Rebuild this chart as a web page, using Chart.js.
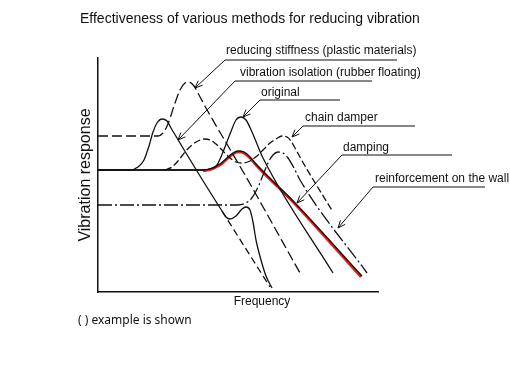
<!DOCTYPE html>
<html>
<head>
<meta charset="utf-8">
<script src="https://cdn.jsdelivr.net/npm/chart.js@4.4.1/dist/chart.umd.min.js"></script>
<style>
  body { margin: 0; background: #fff; }
  canvas { display: block; }
</style>
</head>
<body>
<canvas id="vibrationChart" width="510" height="367"></canvas>
<script>
// Curves (frequency -> vibration response, arbitrary units)
const originalX = [0, 102, 112, 119, 125, 132, 138, 143, 148, 154, 165, 235];
const originalY = [122, 122, 123, 127, 140, 158, 172, 175, 172, 160, 134, 19];

const dampingX = [0, 105, 114, 122, 129, 135, 140, 146, 152, 158, 197, 264];
const dampingY = [122, 122, 124, 128, 134, 139, 141, 140, 135, 128, 89, 16];
// red trace sits just under the black damping line
const dampingRedX = [105, 114, 122, 129, 135, 140, 146, 152, 158, 197, 263];
const dampingRedY = [121, 123, 127, 133, 138, 140, 139, 134, 127, 88, 15];

const rubberX = [0, 32, 40, 46, 51, 55, 59, 64, 69, 73, 124, 128, 132, 138, 144, 148, 152, 155, 158, 163, 168, 174];
const rubberY = [122, 122, 125, 132, 146, 160, 169, 173, 171, 164, 81, 75, 73, 76, 83, 85, 82, 70, 52, 32, 16, 4];
const rubberTailX = [124, 172];
const rubberTailY = [81, 5];

const stiffnessX = [0, 60, 65, 70, 76, 82, 87, 91, 96, 101, 108, 147, 202];
const stiffnessY = [156, 156, 159, 168, 186, 202, 209, 210, 206, 197, 184, 117, 19];

const chainX = [67, 74, 80, 87, 94, 100, 106, 112, 118, 124, 131, 138, 145, 152, 159, 166, 172, 178, 184, 189, 193, 197, 207, 235];
const chainY = [122, 125, 131, 140, 147, 151, 153, 152, 148, 142, 135, 130, 129, 131, 136, 143, 149, 153, 156, 155, 151, 144, 126, 80];

const wallX = [0, 140, 148, 153, 157, 161, 165, 170, 175, 180, 185, 190, 196, 202, 269];
const wallY = [87, 87, 89, 93, 99, 107, 117, 129, 137, 140, 139, 134, 124, 112, 19];

// Callout labels
const calloutNames = [
  "reducing stiffness (plastic materials)",
  "vibration isolation (rubber floating)",
  "original",
  "chain damper",
  "damping",
  "reinforcement on the wall",
];

const points = (xs, ys) => xs.map((x, i) => ({ x: x, y: ys[i] }));

// text anchor, underline and arrow tip for each callout, in chart units
const callouts = [
  { tx: 128, ty: 241, ly: 232, l0: 127, l1: 299, ax: 97, ay: 204 },
  { tx: 142, ty: 219, ly: 211, l0: 137, l1: 274, ax: 80, ay: 152 },
  { tx: 163, ty: 199, ly: 192, l0: 162, l1: 242, ax: 145, ay: 175 },
  { tx: 207, ty: 174, ly: 166, l0: 205, l1: 317, ax: 194, ay: 155 },
  { tx: 245, ty: 144, ly: 137, l0: 244, l1: 354, ax: 199, ay: 89 },
  { tx: 277, ty: 113, ly: 105, l0: 275, l1: 387, ax: 240, ay: 64 },
];

const sketchText = {
  id: "sketchText",
  afterDraw(chart) {
    const { ctx } = chart;
    const sx = chart.scales.x;
    const sy = chart.scales.y;
    ctx.save();
    ctx.fillStyle = "#111";
    ctx.strokeStyle = "#111";
    ctx.lineWidth = 1;
    ctx.textBaseline = "middle";

    ctx.font = "12px 'Liberation Sans', Arial, sans-serif";
    callouts.forEach((c, i) => {
      ctx.fillText(calloutNames[i], sx.getPixelForValue(c.tx), sy.getPixelForValue(c.ty));
      const lx = sx.getPixelForValue(c.l0);
      const ly = sy.getPixelForValue(c.ly);
      const px = sx.getPixelForValue(c.ax);
      const py = sy.getPixelForValue(c.ay);
      const ang = Math.atan2(py - ly, px - lx);
      ctx.beginPath();
      ctx.moveTo(sx.getPixelForValue(c.l1), ly);
      ctx.lineTo(lx, ly);
      ctx.lineTo(px, py);
      ctx.moveTo(px - 8 * Math.cos(ang - 0.4), py - 8 * Math.sin(ang - 0.4));
      ctx.lineTo(px, py);
      ctx.lineTo(px - 8 * Math.cos(ang + 0.4), py - 8 * Math.sin(ang + 0.4));
      ctx.stroke();
    });

    ctx.font = "14px 'Liberation Sans', Arial, sans-serif";
    ctx.fillText("Effectiveness of various methods for reducing vibration", 80, 19);

    ctx.font = "12px 'Liberation Sans', Arial, sans-serif";
    ctx.textAlign = "center";
    ctx.fillText("Frequency", 262, 302);

    ctx.textAlign = "left";
    ctx.font = "12px 'Noto Sans', sans-serif";
    ctx.fillText("( ) example is shown", 78, 321);

    ctx.translate(86, 175);
    ctx.rotate(-Math.PI / 2);
    ctx.textAlign = "center";
    ctx.font = "16px 'Liberation Sans', Arial, sans-serif";
    ctx.fillText("Vibration response", 0, 0);
    ctx.restore();
  },
};

const line = (xs, ys, extra) =>
  Object.assign(
    {
      data: points(xs, ys),
      borderColor: "#111",
      borderWidth: 1.3,
      pointRadius: 0,
      fill: false,
      cubicInterpolationMode: "monotone",
    },
    extra
  );

const ctx = document.getElementById("vibrationChart").getContext("2d");
const vibrationChart = new Chart(ctx, {
  type: "scatter",
  data: {
    datasets: [
      line(originalX, originalY, { label: "original" }),
      line(dampingX, dampingY, { label: "damping", borderWidth: 1.3 }),
      line(dampingRedX, dampingRedY, {
        label: "damping (highlight)",
        borderColor: "#f01a10",
        borderWidth: 2.6,
        order: 10,
      }),
      line(rubberX, rubberY, { label: "vibration isolation" }),
      line(rubberTailX, rubberTailY, { label: "vibration isolation tail", borderDash: [7, 4] }),
      line(stiffnessX, stiffnessY, { label: "reducing stiffness", borderDash: [10, 4] }),
      line(chainX, chainY, { label: "chain damper", borderDash: [7, 3] }),
      line(wallX, wallY, { label: "reinforcement on the wall", borderDash: [14, 3, 2, 3] }),
    ],
  },
  options: {
    responsive: false,
    animation: false,
    showLine: true,
    layout: {
      padding: { left: 98, top: 58, right: 132, bottom: 75 },
    },
    scales: {
      x: {
        type: "linear",
        min: 0,
        max: 280,
        ticks: { display: false },
        grid: { display: false },
        border: { display: true, color: "#111", width: 1.5 },
        afterFit: (scale) => {
          scale.height = 0;
        },
      },
      y: {
        type: "linear",
        min: 0,
        max: 234,
        ticks: { display: false },
        grid: { display: false },
        border: { display: true, color: "#111", width: 1.5 },
        afterFit: (scale) => {
          scale.width = 0;
        },
      },
    },
    plugins: {
      legend: { display: false },
      tooltip: { enabled: false },
    },
  },
  plugins: [sketchText],
});
</script>
</body>
</html>
